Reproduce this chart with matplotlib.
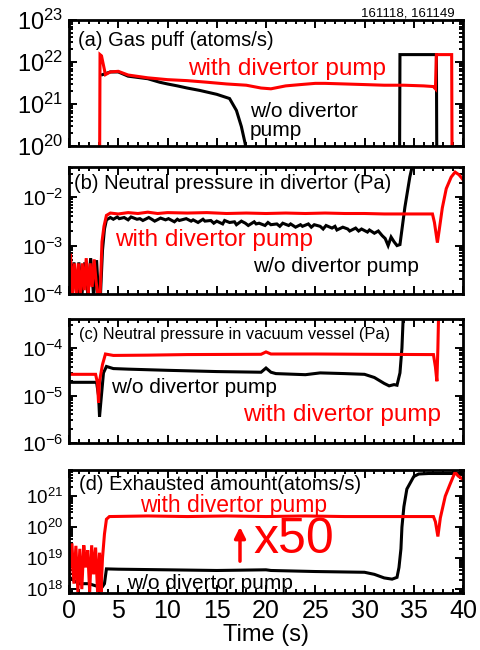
import matplotlib
matplotlib.use('Agg')
import matplotlib.pyplot as plt
from matplotlib.ticker import LogLocator, MultipleLocator, NullFormatter

plt.rcParams['font.family'] = ['Liberation Sans', 'DejaVu Sans']
plt.rcParams['mathtext.fontset'] = 'custom'
plt.rcParams['mathtext.rm'] = 'Liberation Sans'
plt.rcParams['mathtext.it'] = 'Liberation Sans:italic'
plt.rcParams['mathtext.bf'] = 'Liberation Sans:bold'

RED = '#ff0000'
BLACK = '#000000'

# (a) gas puff, atoms/s
a_with_t = [0.0, 3.1, 3.15, 3.3, 3.7, 4.2, 5.0, 6.0, 8.0, 10.0, 12.0, 14.0, 16.0, 18.0, 19.5, 20.5,
            22.0, 23.5, 25.0, 26.0, 28.0, 30.0, 32.0, 34.0, 36.0, 37.0, 37.2, 37.3, 38.85, 38.9, 40.0]
a_with_v = [1e19, 1e19, 1.5e22, 1.4e22, 5e21, 5.8e21, 6e21, 4.9e21, 4.2e21, 3.8e21, 3.6e21, 3.3e21,
            3.0e21, 2.8e21, 2.4e21, 2.3e21, 2.7e21, 2.9e21, 3.1e21, 3.1e21, 3.0e21, 2.9e21, 2.8e21,
            2.8e21, 2.7e21, 2.6e21, 2.3e21, 1.5e22, 1.5e22, 1e19, 1e19]
a_wo_t = [3.4, 4.2, 5.0, 6.0, 8.0, 9.2, 10.0, 11.0, 12.0, 13.3, 15.0, 16.3, 17.0, 17.5, 17.9, 18.0,
          33.55, 33.6, 37.3, 37.35, 40.0]
a_wo_v = [5e21, 5.8e21, 5.8e21, 4.6e21, 4.0e21, 3.3e21, 3.0e21, 2.7e21, 2.4e21, 2.1e21, 1.7e21,
          1.35e21, 7e20, 2.9e20, 1.1e20, 1e19, 1e19, 1.5e22, 1.5e22, 1e19, 1e19]

# (b) neutral pressure in divertor, Pa
b_with_t = [0.0, 0.15, 0.35, 0.55, 0.75, 0.95, 1.15, 1.35, 1.55, 1.75, 1.95, 2.15, 2.35, 2.55, 2.75,
            2.95, 3.15, 3.35, 3.55, 3.8, 4.2, 5.0, 6.0, 7.0, 8.0, 9.0, 10.0, 12.0, 14.0, 16.0, 18.0,
            20.0, 22.0, 24.0, 26.0, 28.0, 30.0, 32.0, 34.0, 36.0, 36.9, 37.1, 37.4, 37.6, 37.9, 38.3,
            38.8, 39.2, 39.6, 40.0]
b_with_v = [1.2e-4, 6.8e-4, 9e-5, 4.3e-4, 1e-4, 4.3e-4, 9e-5, 4.3e-4, 1.2e-4, 5.5e-4, 9e-5, 4.3e-4,
            1.4e-4, 5.2e-4, 1.8e-4, 9e-5, 9e-5, 1.2e-3, 2.5e-3, 4.2e-3, 4.7e-3, 4.5e-3, 4.8e-3,
            4.6e-3, 4.9e-3, 4.6e-3, 4.8e-3, 4.7e-3, 4.8e-3, 4.6e-3, 4.7e-3, 4.6e-3, 4.7e-3, 4.6e-3,
            4.7e-3, 4.6e-3, 4.6e-3, 4.5e-3, 4.5e-3, 4.5e-3, 4.5e-3, 3e-3, 1.15e-3, 2.2e-3, 6e-3,
            1.5e-2, 2.6e-2, 3.3e-2, 2.9e-2, 2.3e-2]
b_wo_t = [0.0, 0.3, 0.5, 0.8, 1.0, 1.3, 1.6, 1.9, 2.2, 2.5, 2.8, 3.0, 3.2, 3.4, 3.6, 3.8, 4.2, 4.5,
          4.9, 5.1, 5.6, 6.0, 6.3, 6.9, 7.2, 7.5, 8.1, 8.4, 8.7, 9.3, 9.8, 10.1, 10.7, 11.0, 11.2,
          11.9, 12.4, 12.6, 13.1, 13.6, 13.8, 14.4, 14.7, 15.0, 15.6, 15.8, 16.3, 16.8, 17.0, 17.5,
          17.9, 18.2, 18.8, 19.0, 19.3, 19.9, 20.2, 20.5, 21.1, 21.4, 21.7, 22.3, 22.5, 23.0, 23.5,
          23.7, 24.3, 24.6, 24.9, 25.5, 25.8, 26.1, 26.7, 27.0, 27.2, 27.8, 28.3, 28.5, 29.1, 29.4,
          29.7, 30.3, 30.5, 31.0, 31.4, 31.8, 32.1, 32.4, 32.7, 33.0, 33.3, 33.6, 34.1, 34.6, 35.0]
b_wo_v = [3e-4, 1e-4, 4.5e-4, 9e-5, 4.5e-4, 9e-5, 4.5e-4, 1e-4, 5.5e-4, 9e-5, 5e-4, 9e-5, 1e-4,
          8e-4, 2.2e-3, 3.4e-3, 3.8e-3, 3.5e-3, 3.9e-3, 3.6e-3, 3.8e-3, 3.4e-3, 3.9e-3, 3.5e-3,
          3.6e-3, 3.3e-3, 3.8e-3, 3.5e-3, 3.2e-3, 3.7e-3, 3.4e-3, 3.6e-3, 3.1e-3, 3.5e-3, 3.3e-3,
          3.6e-3, 3.2e-3, 3.4e-3, 3.0e-3, 3.5e-3, 3.2e-3, 3.3e-3, 2.9e-3, 3.2e-3, 2.8e-3, 3.3e-3,
          3.0e-3, 3.1e-3, 2.7e-3, 3.2e-3, 2.9e-3, 2.6e-3, 3.1e-3, 2.8e-3, 2.9e-3, 2.6e-3, 3.0e-3,
          2.7e-3, 2.8e-3, 2.5e-3, 2.9e-3, 2.6e-3, 2.8e-3, 2.4e-3, 2.7e-3, 2.5e-3, 2.8e-3, 2.4e-3,
          2.7e-3, 2.5e-3, 2.2e-3, 2.6e-3, 2.3e-3, 2.5e-3, 2.1e-3, 2.4e-3, 2.2e-3, 2.0e-3, 2.3e-3,
          2.0e-3, 2.2e-3, 1.9e-3, 2.1e-3, 1.8e-3, 2.0e-3, 1.6e-3, 1.4e-3, 1.0e-3, 1.5e-3, 1.2e-3,
          1.0e-3, 1.05e-3, 6.2e-3, 2.6e-2, 6e-2]

# (c) neutral pressure in vacuum vessel, Pa
c_with_t = [0.0, 2.7, 2.9, 3.0, 3.1, 3.4, 3.7, 4.5, 8.0, 12.0, 19.5, 20.0, 20.5, 25.0, 30.0, 36.5,
            37.0, 37.2, 37.35, 37.45, 37.55]
c_with_v = [2.8e-5, 2.8e-5, 1.8e-5, 7e-6, 2e-5, 4.5e-5, 7.5e-5, 7e-5, 7.1e-5, 7.3e-5, 7.4e-5,
            8.3e-5, 7.5e-5, 7.5e-5, 7.4e-5, 7.3e-5, 7.3e-5, 4e-5, 2e-5, 1e-4, 1e-3]
c_wo_t = [0.0, 2.8, 3.0, 3.1, 3.25, 3.5, 3.8, 4.5, 6.0, 10.0, 15.0, 19.5, 20.0, 20.5, 21.0, 24.0,
          25.5, 28.0, 30.0, 31.0, 32.0, 32.5, 33.0, 33.3, 33.6, 33.8, 34.0]
c_wo_v = [1.9e-5, 1.9e-5, 1e-5, 3.6e-6, 8e-6, 3e-5, 4.1e-5, 3.7e-5, 3.6e-5, 3.4e-5, 3.2e-5,
          3.1e-5, 3.8e-5, 3.1e-5, 2.9e-5, 2.75e-5, 3.0e-5, 2.9e-5, 2.8e-5, 2.4e-5, 1.8e-5,
          1.6e-5, 1.7e-5, 1.65e-5, 3e-5, 1e-4, 1e-3]

# (d) exhausted amount, atoms/s
d_with_t = [0.0, 0.1, 0.3, 0.5, 0.7, 0.9, 1.1, 1.3, 1.5, 1.7, 1.9, 2.1, 2.3, 2.5, 2.7, 2.9, 3.1,
            3.25, 3.4, 3.6, 3.8, 4.1, 8.0, 12.0, 16.0, 20.0, 24.0, 28.0, 32.0, 36.0, 37.0, 37.2,
            37.45, 37.7, 38.2, 38.7, 39.2, 39.5, 40.0]
d_with_v = [1e18, 5e18, 3e19, 1.5e18, 2.5e19, 8e17, 2e19, 1e18, 2.6e19, 5e18, 1.8e19, 8e17,
            2.6e19, 3e18, 2.2e19, 8e17, 1.5e19, 8e17, 1e19, 6e19, 1.8e20, 2.2e20, 2.3e20, 2.2e20,
            2.3e20, 2.2e20, 2.3e20, 2.2e20, 2.2e20, 2.2e20, 2.2e20, 1.5e20, 5e19, 2e20, 1e21,
            2.5e21, 6e21, 4.5e21, 3.5e21]
d_wo_t = [0.0, 0.4, 1.0, 2.0, 3.0, 3.4, 3.6, 3.8, 5.0, 10.0, 15.0, 20.0, 20.5, 25.0, 30.0, 31.0,
          32.0, 32.8, 33.3, 33.5, 33.7, 33.8, 34.0, 34.3, 35.0, 35.5, 36.5, 40.0]
d_wo_v = [2.5e18, 2e18, 1.5e18, 1.5e18, 1.2e18, 1.2e18, 1.5e18, 4.5e18, 4.4e18, 4.2e18, 4.0e18,
          4.2e18, 4.0e18, 3.7e18, 3.5e18, 3.0e18, 2.3e18, 2.1e18, 2.4e18, 5e18, 2e19, 1e20,
          4.6e20, 1.7e21, 4.3e21, 5.2e21, 5.4e21, 5.4e21]

xlim = (0, 40)
ylims = [(1e20, 1e23), (1e-4, 4.2e-2), (1e-6, 4.1e-4), (7.5e17, 7e21)]
ylabel_sizes = [17, 15, 15, 13.5]

fig = plt.figure(figsize=(4.81, 6.5), dpi=100)
left, width = 69 / 481, 394 / 481
boxes = [(20, 146), (167, 294), (319, 443), (470, 593)]
axes = []
for (top, bot) in boxes:
    axes.append(fig.add_axes([left, 1 - bot / 650, width, (bot - top) / 650]))

series = [(a_wo_t, a_wo_v, a_with_t, a_with_v),
          (b_wo_t, b_wo_v, b_with_t, b_with_v),
          (c_wo_t, c_wo_v, c_with_t, c_with_v),
          (d_wo_t, d_wo_v, d_with_t, d_with_v)]

for i, ax in enumerate(axes):
    wo_t, wo_v, w_t, w_v = series[i]
    ax.plot(wo_t, wo_v, color=BLACK, lw=2.2, solid_joinstyle='miter')
    ax.plot(w_t, w_v, color=RED, lw=2.2, solid_joinstyle='miter')
    ax.set_yscale('log')
    ax.set_xlim(*xlim)
    ax.set_ylim(*ylims[i])
    ax.xaxis.set_major_locator(MultipleLocator(5))
    ax.xaxis.set_minor_locator(MultipleLocator(1))
    ax.yaxis.set_major_locator(LogLocator(base=10, numticks=20))
    ax.yaxis.set_minor_locator(LogLocator(base=10, subs=range(2, 10), numticks=100))
    ax.yaxis.set_minor_formatter(NullFormatter())
    ax.tick_params(which='both', direction='in', top=True, right=True, width=1.4)
    ax.tick_params(which='major', length=5.5)
    ax.tick_params(which='minor', length=3)
    ax.tick_params(axis='y', labelsize=ylabel_sizes[i], pad=4)
    ax.tick_params(axis='x', labelsize=18, pad=4)
    for s in ax.spines.values():
        s.set_linewidth(2)
    if i < 3:
        ax.tick_params(axis='x', labelbottom=False)

axes[3].set_xlabel('Time (s)', fontsize=17, labelpad=1)

ax = axes[0]
ax.text(0.023, 0.84, '(a) Gas puff (atoms/s)', transform=ax.transAxes, fontsize=14.5, va='center')
ax.text(0.302, 0.611, 'with divertor pump', transform=ax.transAxes, fontsize=17.5, color=RED, va='center')
ax.text(0.459, 0.198, 'w/o divertor\npump', transform=ax.transAxes, fontsize=15, va='center',
        linespacing=1.0)
fig.text(455 / 481, 1 - 13 / 650, '161118, 161149', fontsize=9.5, ha='right', va='center')

ax = axes[1]
ax.text(0.0127, 0.874, '(b) Neutral pressure in divertor (Pa)', transform=ax.transAxes,
        fontsize=14.5, va='center')
ax.text(0.117, 0.425, 'with divertor pump', transform=ax.transAxes, fontsize=17.5, color=RED, va='center')
ax.text(0.467, 0.213, 'w/o divertor pump', transform=ax.transAxes, fontsize=15, va='center')

ax = axes[2]
ax.text(0.025, 0.871, '(c) Neutral pressure in vacuum vessel (Pa)', transform=ax.transAxes,
        fontsize=11.8, va='center')
ax.text(0.107, 0.444, 'w/o divertor pump', transform=ax.transAxes, fontsize=15, va='center')
ax.text(0.442, 0.226, 'with divertor pump', transform=ax.transAxes, fontsize=17.5, color=RED, va='center')

ax = axes[3]
ax.text(0.025, 0.885, '(d) Exhausted amount(atoms/s)', transform=ax.transAxes, fontsize=14.5, va='center')
ax.text(0.180, 0.715, 'with divertor pump', transform=ax.transAxes, fontsize=16.5, color=RED, va='center')
ax.text(0.467, 0.431, 'x50', transform=ax.transAxes, fontsize=36, color=RED, va='center')
ax.annotate('', xy=(0.434, 0.56), xytext=(0.434, 0.236), xycoords='axes fraction',
            arrowprops=dict(arrowstyle='-|>', color=RED, lw=2.5, mutation_scale=16))
ax.text(0.147, 0.081, 'w/o divertor pump', transform=ax.transAxes, fontsize=15, va='center')

fig.savefig('out.png', dpi=100)
